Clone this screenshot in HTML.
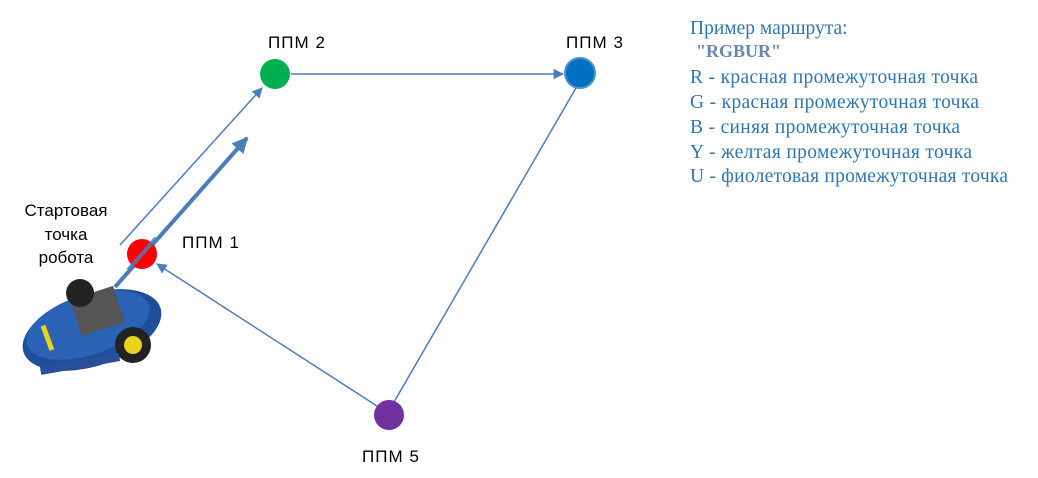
<!DOCTYPE html>
<html><head><meta charset="utf-8"><style>
body{margin:0;background:#fff;width:1038px;height:473px;overflow:hidden}
</style></head><body>
<svg width="1038" height="473" xmlns="http://www.w3.org/2000/svg">
<defs>
<marker id="a" viewBox="0 0 10 10" refX="9" refY="5" markerWidth="7" markerHeight="7" orient="auto"><path d="M0,0L10,5L0,10z" fill="#4a7ebb"/></marker>
<marker id="b" viewBox="0 0 10 10" refX="9" refY="5" markerWidth="4" markerHeight="4" orient="auto"><path d="M0,0L10,5L0,10z" fill="#4a7ebb"/></marker>
</defs>
<!-- robot -->
<g>
<ellipse cx="92" cy="330" rx="72" ry="36" fill="#1f4f9a" transform="rotate(-18 92 330)"/>
<ellipse cx="88" cy="325" rx="64" ry="30" fill="#2a63b5" transform="rotate(-18 88 325)"/>
<rect x="75" y="292" width="45" height="38" fill="#555" transform="rotate(-18 97 311)"/>
<circle cx="80" cy="293" r="14" fill="#222"/>
<circle cx="133" cy="345" r="18" fill="#222"/>
<circle cx="133" cy="345" r="9" fill="#e8d21c"/>
<rect x="45" y="325" width="5" height="26" fill="#e8d21c" transform="rotate(-20 47 338)"/>
<rect x="40" y="360" width="80" height="8" fill="#2a4f9a" transform="rotate(-10 80 364)"/>
</g>
<!-- lines -->
<line x1="120" y1="245" x2="262" y2="88" stroke="#4a7ebb" stroke-width="1.5" marker-end="url(#a)"/>
<line x1="115" y1="287" x2="247" y2="138" stroke="#4a7ebb" stroke-width="4" marker-end="url(#b)"/>
<line x1="291" y1="74" x2="563" y2="74" stroke="#4a7ebb" stroke-width="1.5" marker-end="url(#a)"/>
<line x1="576" y1="88" x2="394" y2="402" stroke="#4a7ebb" stroke-width="1.5"/>
<line x1="377" y1="406" x2="157" y2="264" stroke="#4a7ebb" stroke-width="1.5" marker-end="url(#a)"/>
<!-- nodes -->
<circle cx="142" cy="254" r="15" fill="#ff0000"/>
<line x1="128" y1="270" x2="156" y2="238" stroke="#4a7ebb" stroke-width="4" opacity="0.8"/>
<circle cx="275" cy="74" r="15" fill="#00b050"/>
<circle cx="580" cy="73" r="15" fill="#0070c0" stroke="#4a90d0" stroke-width="2"/>
<circle cx="389" cy="415" r="15" fill="#7030a0"/>
<g font-family="Liberation Sans, sans-serif" font-size="17" fill="#000">
<text x="268" y="48" textLength="57">ППМ 2</text>
<text x="566" y="48" textLength="57">ППМ 3</text>
<text x="182" y="248" textLength="57">ППМ 1</text>
<text x="362" y="462" textLength="57">ППМ 5</text>
<text x="66" y="216" text-anchor="middle">Стартовая</text>
<text x="66" y="240" text-anchor="middle">точка</text>
<text x="66" y="263" text-anchor="middle">робота</text>
</g>
<g font-family="Liberation Serif, serif" font-size="19.5" fill="#2e75b6">
<text x="690" y="34">Пример маршрута:</text>
<text x="696" y="57" font-weight="bold" fill="#6a86b0" font-size="18">"RGBUR"</text>
<text x="690" y="83" textLength="288">R - красная промежуточная точка</text>
<text x="690" y="108" textLength="289">G - красная промежуточная точка</text>
<text x="690" y="133" textLength="270">B - синяя промежуточная точка</text>
<text x="690" y="158" textLength="282">Y - желтая промежуточная точка</text>
<text x="690" y="182" textLength="318">U - фиолетовая промежуточная точка</text>
</g>
</svg>
</body></html>
